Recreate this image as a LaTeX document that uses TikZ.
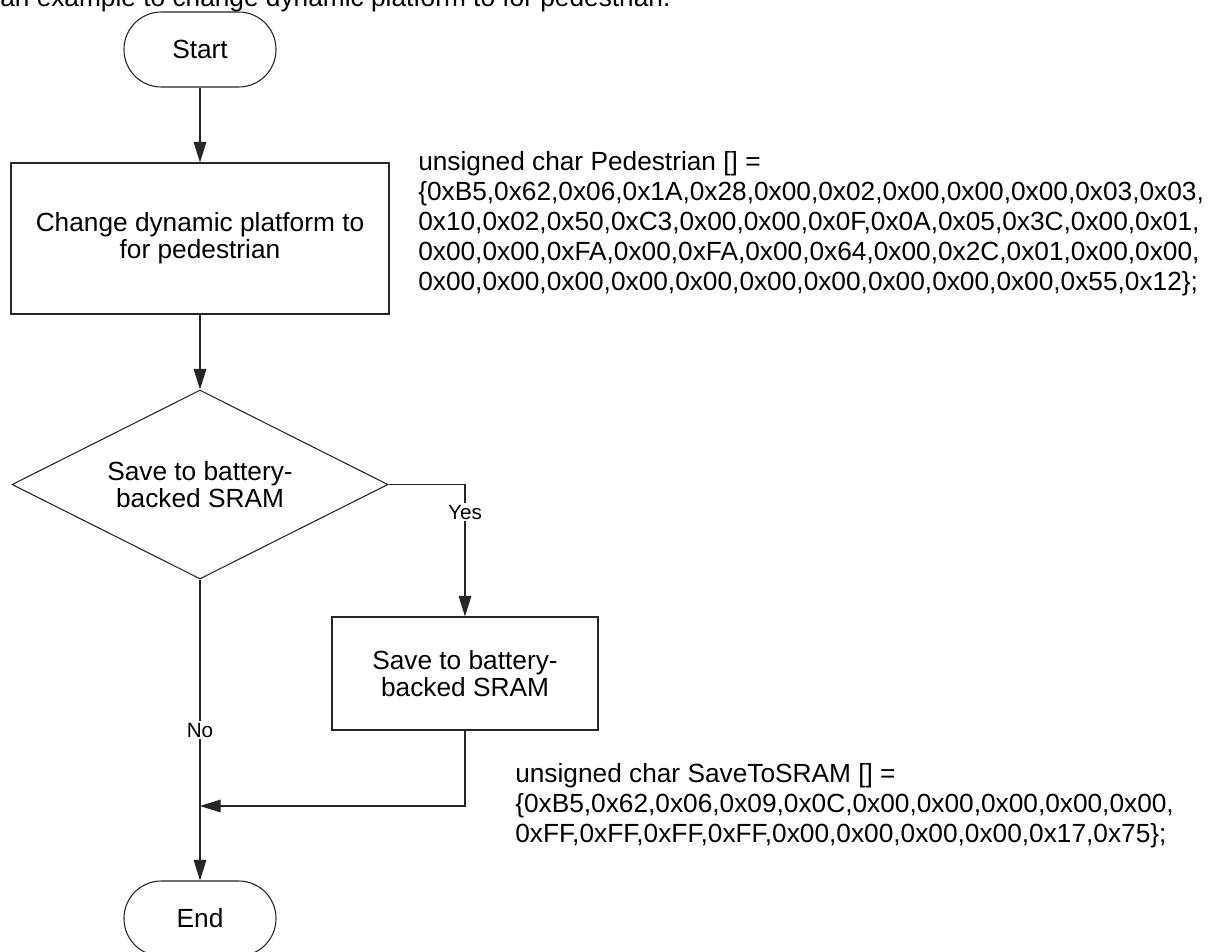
\documentclass[tikz,border=0pt]{standalone}
\usepackage{fontspec}
\setmainfont{Liberation Sans}
\usetikzlibrary{shapes.geometric,arrows.meta}
\begin{document}
\begin{tikzpicture}[x=0.75pt,y=-0.75pt,
  every node/.style={font=\fontsize{19.7}{20}\selectfont, text=black},
  line/.style={draw=black!85, line width=0.8pt},
  arr/.style={line, -{Triangle[length=15.5pt,width=9.5pt]}},
  term/.style={draw=black!85, line width=0.8pt, rectangle, rounded corners=28pt, minimum width=114pt, minimum height=56.25pt, inner sep=0pt},
  proc/.style={draw=black!85, line width=0.8pt, rectangle, align=center, inner sep=0pt},
  decision/.style={draw=black!85, line width=0.8pt, diamond, aspect=2, align=center, inner sep=0pt, minimum width=282pt, minimum height=141.75pt},
  lbl/.style={fill=white, font=\fontsize{15.5}{16}\selectfont, inner sep=1.5pt},
  code/.style={align=left, anchor=west, font=\fontsize{19.7}{22.5}\selectfont, inner sep=0pt}]
\useasboundingbox (0,0) rectangle (1215,951);
\clip (0,0) rectangle (1215,951);
\fill[white] (0,0) rectangle (1215,951);
\node[anchor=base west, inner sep=0pt] (title) at (0,6) {an example to change dynamic platform to for pedestrian.};
\node[term] (start) at (200,49.5) {Start};
\node[proc, minimum width=283.5pt, minimum height=113.25pt] (p1) at (200,238.5) {Change dynamic platform to\\for pedestrian};
\node[decision] (d1) at (200,484.5) {Save to battery-\\backed SRAM};
\node[proc, minimum width=199.5pt, minimum height=84.75pt] (p2) at (465,673.5) {Save to battery-\\backed SRAM};
\node[term] (end) at (200,918.5) {End};
\coordinate (yesc) at (465,484.5);
\coordinate (mergeR) at (465,806);
\coordinate (mergeL) at (200,806);
\draw[arr] (start) -- (p1);
\draw[arr] (p1) -- (d1);
\draw[arr] (d1.east) -- (yesc) -- node[lbl, pos=0.21] (yes) {Yes} (p2.north);
\draw[arr] (d1.south) -- node[lbl, pos=0.5] (no) {No} (end.north);
\draw[arr] (p2.south) -- (mergeR) -- (mergeL);
\node[code] (c1) at (418,224) {unsigned char Pedestrian [] =\\
\{0xB5,0x62,0x06,0x1A,0x28,0x00,0x02,0x00,0x00,0x00,0x03,0x03,\\
0x10,0x02,0x50,0xC3,0x00,0x00,0x0F,0x0A,0x05,0x3C,0x00,0x01,\\
0x00,0x00,0xFA,0x00,0xFA,0x00,0x64,0x00,0x2C,0x01,0x00,0x00,\\
0x00,0x00,0x00,0x00,0x00,0x00,0x00,0x00,0x00,0x00,0x55,0x12\};};
\node[code] (c2) at (515,806) {unsigned char SaveToSRAM [] =\\
\{0xB5,0x62,0x06,0x09,0x0C,0x00,0x00,0x00,0x00,0x00,\\
0xFF,0xFF,0xFF,0xFF,0x00,0x00,0x00,0x00,0x17,0x75\};};
\end{tikzpicture}
\end{document}
